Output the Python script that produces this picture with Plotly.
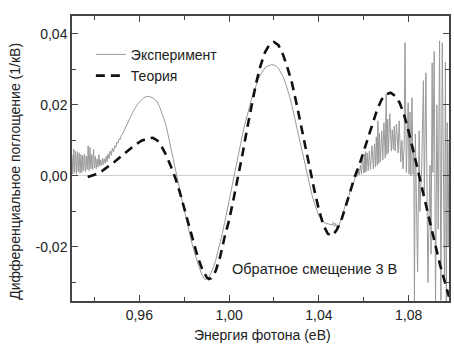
import plotly.graph_objects as go

# ---------------- data ----------------
exp_x = [
    0.9300, 0.9304, 0.9308, 0.9312, 0.9316, 0.9320, 0.9324, 0.9328, 0.9332, 0.9336,
    0.9340, 0.9344, 0.9348, 0.9352, 0.9356, 0.9360, 0.9364, 0.9368, 0.9372, 0.9376,
    0.9380, 0.9384, 0.9388, 0.9392, 0.9396, 0.9400, 0.9404, 0.9408, 0.9412, 0.9416,
    0.9420, 0.9424, 0.9428, 0.9432, 0.9436, 0.9440, 0.9444, 0.9448, 0.9452, 0.9456,
    0.9460, 0.9465, 0.9470, 0.9475, 0.9480, 0.9485, 0.9490, 0.9495, 0.9500, 0.9505,
    0.9510, 0.9515, 0.9520, 0.9525, 0.9530, 0.9540, 0.9550, 0.9560, 0.9570, 0.9580,
    0.9590, 0.9600, 0.9610, 0.9620, 0.9630, 0.9640, 0.9650, 0.9660, 0.9670, 0.9680,
    0.9690, 0.9700, 0.9710, 0.9720, 0.9730, 0.9740, 0.9750, 0.9760, 0.9770, 0.9780,
    0.9790, 0.9800, 0.9810, 0.9820, 0.9830, 0.9840, 0.9850, 0.9860, 0.9870, 0.9880,
    0.9890, 0.9900, 0.9910, 0.9920, 0.9930, 0.9940, 0.9950, 0.9960, 0.9970, 0.9980,
    0.9990, 1.0000, 1.0010, 1.0020, 1.0030, 1.0040, 1.0050, 1.0060, 1.0070, 1.0080,
    1.0090, 1.0100, 1.0110, 1.0120, 1.0130, 1.0140, 1.0150, 1.0160, 1.0170, 1.0180,
    1.0190, 1.0200, 1.0210, 1.0220, 1.0230, 1.0240, 1.0250, 1.0260, 1.0270, 1.0280,
    1.0290, 1.0300, 1.0310, 1.0320, 1.0330, 1.0340, 1.0350, 1.0360, 1.0370, 1.0380,
    1.0390, 1.0400, 1.0410, 1.0420, 1.0430, 1.0440, 1.0450, 1.0460, 1.0465, 1.0470,
    1.0475, 1.0480, 1.0485, 1.0490, 1.0495, 1.0500, 1.0505, 1.0510, 1.0515, 1.0520,
    1.0525, 1.0530, 1.0535, 1.0540, 1.0545, 1.0550, 1.0555, 1.0560, 1.0565, 1.0570,
    1.0575, 1.0580, 1.0585, 1.0590, 1.0595, 1.0600, 1.0603, 1.0605, 1.0608, 1.0610,
    1.0615, 1.0620, 1.0625, 1.0630, 1.0637, 1.0643, 1.0648, 1.0652, 1.0656, 1.0660,
    1.0663, 1.0667, 1.0670, 1.0674, 1.0680, 1.0685, 1.0690, 1.0696, 1.0700, 1.0703,
    1.0707, 1.0710, 1.0716, 1.0723, 1.0727, 1.0732, 1.0736, 1.0740, 1.0746, 1.0753,
    1.0758, 1.0765, 1.0770, 1.0775, 1.0780, 1.0784, 1.0790, 1.0798, 1.0802, 1.0806,
    1.0810, 1.0815, 1.0820, 1.0823, 1.0826, 1.0830, 1.0840, 1.0847, 1.0850, 1.0858,
    1.0866, 1.0870, 1.0877, 1.0886, 1.0895, 1.0900, 1.0905, 1.0908, 1.0914, 1.0920,
    1.0926, 1.0932, 1.0938, 1.0944, 1.0950, 1.0956, 1.0960, 1.0964, 1.0968, 1.0972,
    1.0976, 1.0980,
]
exp_y = [
    0.0060, 0.0005, 0.0075, 0.0010, 0.0070, 0.0005, 0.0068, 0.0012, 0.0065, 0.0008,
    0.0060, 0.0010, 0.0058, 0.0015, 0.0062, 0.0012, 0.0056, 0.0018, 0.0085, 0.0015,
    0.0080, 0.0020, 0.0060, 0.0018, 0.0075, 0.0022, 0.0055, 0.0020, 0.0048, 0.0025,
    0.0060, 0.0028, 0.0045, 0.0030, 0.0050, 0.0032, 0.0048, 0.0035, 0.0055, 0.0040,
    0.0062, 0.0048, 0.0070, 0.0058, 0.0078, 0.0068, 0.0085, 0.0080, 0.0095, 0.0092,
    0.0105, 0.0103, 0.0115, 0.0117, 0.0125, 0.0140, 0.0152, 0.0165, 0.0178, 0.0190,
    0.0200, 0.0208, 0.0215, 0.0220, 0.0223, 0.0224, 0.0222, 0.0220, 0.0215, 0.0208,
    0.0195, 0.0180, 0.0160, 0.0140, 0.0110, 0.0075, 0.0042, 0.0015, -0.0010, -0.0040,
    -0.0068, -0.0095, -0.0125, -0.0152, -0.0178, -0.0202, -0.0225, -0.0245, -0.0263, -0.0280,
    -0.0290, -0.0292, -0.0286, -0.0274, -0.0258, -0.0238, -0.0215, -0.0190, -0.0162, -0.0132,
    -0.0100, -0.0068, -0.0036, -0.0005, 0.0027, 0.0058, 0.0088, 0.0117, 0.0145, 0.0170,
    0.0194, 0.0216, 0.0236, 0.0255, 0.0271, 0.0285, 0.0296, 0.0304, 0.0309, 0.0312,
    0.0313, 0.0312, 0.0309, 0.0303, 0.0293, 0.0280, 0.0264, 0.0245, 0.0223, 0.0198,
    0.0170, 0.0140, 0.0110, 0.0080, 0.0050, 0.0022, -0.0005, -0.0030, -0.0055, -0.0077,
    -0.0096, -0.0112, -0.0123, -0.0130, -0.0133, -0.0134, -0.0135, -0.0138, -0.0130, -0.0142,
    -0.0133, -0.0148, -0.0150, -0.0140, -0.0128, -0.0118, -0.0110, -0.0096, -0.0090, -0.0076,
    -0.0072, -0.0058, -0.0055, -0.0040, -0.0038, -0.0025, -0.0020, -0.0010, 0.0005, -0.0002,
    0.0015, 0.0003, 0.0030, 0.0005, 0.0055, 0.0008, 0.0062, 0.0010, 0.0068, 0.0012,
    0.0065, 0.0015, 0.0070, 0.0018, 0.0085, 0.0020, 0.0090, 0.0025, 0.0110, 0.0030,
    0.0155, 0.0035, 0.0120, 0.0040, 0.0127, 0.0045, 0.0150, 0.0050, 0.0230, 0.0060,
    0.0160, 0.0065, 0.0175, 0.0070, 0.0130, 0.0075, 0.0140, 0.0070, 0.0146, 0.0065,
    0.0155, 0.0040, 0.0100, 0.0020, 0.0080, 0.0375, 0.0010, 0.0206, 0.0005, 0.0180,
    0.0000, 0.0220, 0.0005, 0.0080, -0.0360, 0.0118, -0.0270, 0.0127, -0.0100, 0.0020,
    0.0268, -0.0050, 0.0290, -0.0300, 0.0030, -0.0220, 0.0318, 0.0010, 0.0350, -0.0360,
    0.0200, -0.0150, 0.0380, -0.0350, 0.0375, -0.0050, -0.0300, 0.0320, -0.0360, 0.0150,
    -0.0200, 0.0100,
]

theo_x = [
    0.9370, 0.9400, 0.9430, 0.9460, 0.9490, 0.9520, 0.9550, 0.9580, 0.9610, 0.9640,
    0.9660, 0.9680, 0.9700, 0.9720, 0.9740, 0.9760, 0.9780, 0.9800, 0.9820, 0.9840,
    0.9860, 0.9880, 0.9900, 0.9910, 0.9920, 0.9940, 0.9960, 0.9980, 1.0000, 1.0020,
    1.0040, 1.0060, 1.0080, 1.0100, 1.0120, 1.0140, 1.0160, 1.0180, 1.0200, 1.0220,
    1.0240, 1.0260, 1.0280, 1.0300, 1.0320, 1.0340, 1.0360, 1.0370, 1.0380, 1.0400,
    1.0420, 1.0440, 1.0460, 1.0480, 1.0500, 1.0520, 1.0540, 1.0560, 1.0580, 1.0600,
    1.0620, 1.0640, 1.0660, 1.0680, 1.0700, 1.0720, 1.0740, 1.0760, 1.0780, 1.0800,
    1.0820, 1.0840, 1.0860, 1.0880, 1.0900, 1.0920, 1.0940, 1.0960, 1.0980,
]
theo_y = [
    -0.0003, 0.0003, 0.0012, 0.0025, 0.0040, 0.0056, 0.0072, 0.0087, 0.0099, 0.0106,
    0.0107, 0.0100, 0.0082, 0.0058, 0.0028, -0.0005, -0.0045, -0.0090, -0.0138, -0.0185,
    -0.0228, -0.0262, -0.0285, -0.0290, -0.0288, -0.0268, -0.0228, -0.0172, -0.0125, -0.0065,
    -0.0005, 0.0062, 0.0132, 0.0200, 0.0260, 0.0310, 0.0348, 0.0370, 0.0377, 0.0368,
    0.0342, 0.0305, 0.0262, 0.0205, 0.0142, 0.0078, 0.0018, -0.0010, -0.0040, -0.0095,
    -0.0138, -0.0163, -0.0168, -0.0152, -0.0125, -0.0085, -0.0040, -0.0002, 0.0030, 0.0070,
    0.0110, 0.0145, 0.0187, 0.0215, 0.0230, 0.0234, 0.0225, 0.0206, 0.0172, 0.0125,
    0.0068, 0.0020, -0.0035, -0.0090, -0.0145, -0.0200, -0.0250, -0.0295, -0.0340,
]

x_tickvals = [0.96, 1.00, 1.04, 1.08]
x_ticktext = ["0,96", "1,00", "1,04", "1,08"]
x_minorvals = [0.94, 0.98, 1.02, 1.06]
y_tickvals = [-0.02, 0.00, 0.02, 0.04]
y_ticktext = ["-0,02", "0,00", "0,02", "0,04"]
y_minorvals = [-0.03, -0.01, 0.01, 0.03]

series_names = ["Эксперимент", "Теория"]
x_title = "Энергия фотона (eB)"
y_title = "Дифференциальное поглощение (1/кВ)"
note = "Обратное смещение 3 В"

# ---------------- figure ----------------
FONT = "Liberation Sans, Arial, sans-serif"
TXT = "#222222"
AX = "#444444"

fig = go.Figure()
fig.add_trace(go.Scatter(x=exp_x, y=exp_y, mode="lines", name=series_names[0],
                         line=dict(color="#9a9a9a", width=1)))
fig.add_trace(go.Scatter(x=theo_x, y=theo_y, mode="lines", name=series_names[1],
                         line=dict(color="#111111", width=2.6, dash="9px,6px")))

axis_common = dict(showline=True, linecolor=AX, linewidth=1.5, mirror="ticks",
                   ticks="inside", ticklen=6, tickwidth=1.2, tickcolor=AX,
                   showgrid=False, tickfont=dict(family=FONT, size=14, color=TXT))

fig.update_xaxes(range=[0.930, 1.098], tickmode="array", tickvals=x_tickvals,
                 ticktext=x_ticktext, zeroline=False,
                 minor=dict(tickvals=x_minorvals, ticks="inside", ticklen=4,
                            tickcolor=AX, tickwidth=1.2, showgrid=False),
                 **axis_common)
fig.update_yaxes(range=[-0.0352, 0.045], tickmode="array", tickvals=y_tickvals,
                 ticktext=y_ticktext, zeroline=True, zerolinecolor="#d0d0d0",
                 zerolinewidth=1,
                 minor=dict(tickvals=y_minorvals, ticks="inside", ticklen=4,
                            tickcolor=AX, tickwidth=1.2, showgrid=False),
                 **axis_common)

fig.update_layout(
    width=454, height=347,
    margin=dict(l=72, r=3, t=16, b=46),
    paper_bgcolor="white", plot_bgcolor="white",
    font=dict(family=FONT, size=14, color=TXT),
    showlegend=True,
    legend=dict(x=0.05, y=0.92, xanchor="left", yanchor="top",
                bgcolor="rgba(0,0,0,0)", font=dict(size=14, color=TXT),
                tracegroupgap=0, itemwidth=30),
    annotations=[
        dict(text=note, x=1.0002, y=-0.0262, xref="x", yref="y",
             xanchor="left", yanchor="middle", showarrow=False,
             font=dict(size=14.5, color=TXT)),
        dict(text=x_title, x=0.504, y=-0.12, xref="paper", yref="paper",
             xanchor="center", yanchor="middle", showarrow=False,
             font=dict(size=14, color=TXT)),
        dict(text=y_title, x=-0.150, y=0.455, xref="paper", yref="paper",
             xanchor="center", yanchor="middle", showarrow=False, textangle=-90,
             font=dict(size=14, color=TXT)),
    ],
)

fig.write_html("out.html")
